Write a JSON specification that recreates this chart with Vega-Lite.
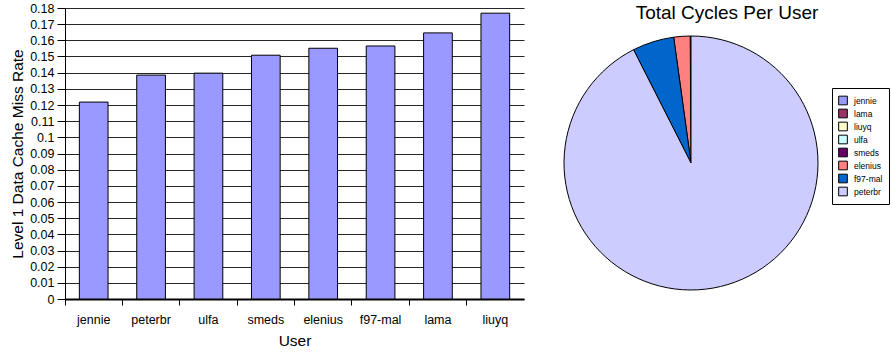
{
  "$schema": "https://vega.github.io/schema/vega-lite/v6.json",
  "padding": {"left": 10, "top": 2, "right": 0, "bottom": 0},
  "spacing": 38,
  "config": {
    "view": {"stroke": null},
    "font": "Liberation Sans",
    "axis": {"labelColor": "black", "titleColor": "black", "titleFontWeight": "normal", "labelFont": "Liberation Sans", "titleFont": "Liberation Sans"}
  },
  "datasets": {
    "missrate": [
      {"user": "jennie", "rate": 0.1218},
      {"user": "peterbr", "rate": 0.1385},
      {"user": "ulfa", "rate": 0.1397},
      {"user": "smeds", "rate": 0.1508},
      {"user": "elenius", "rate": 0.1551},
      {"user": "f97-mal", "rate": 0.1565},
      {"user": "lama", "rate": 0.1646},
      {"user": "liuyq", "rate": 0.1768}
    ],
    "cycles": [
      {"user": "jennie", "cycles": 0.02, "ord": 8},
      {"user": "lama", "cycles": 0.02, "ord": 7},
      {"user": "liuyq", "cycles": 0.02, "ord": 6},
      {"user": "ulfa", "cycles": 0.02, "ord": 5},
      {"user": "smeds", "cycles": 0.02, "ord": 4},
      {"user": "elenius", "cycles": 2.08, "ord": 3},
      {"user": "f97-mal", "cycles": 5.29, "ord": 2},
      {"user": "peterbr", "cycles": 92.53, "ord": 1}
    ]
  },
  "hconcat": [
    {
      "width": 459,
      "height": 291,
      "data": {"name": "missrate"},
      "mark": {"type": "bar", "fill": "#9999FF", "stroke": "black", "strokeWidth": 1},
      "encoding": {
        "x": {
          "field": "user", "type": "nominal", "sort": null,
          "scale": {"paddingInner": 0.5, "paddingOuter": 0.25},
          "axis": {
            "title": "User", "titleFontSize": 15.5, "titlePadding": 8,
            "labelAngle": 0, "labelFontSize": 12.5, "labelPadding": 8,
            "tickSize": 6, "tickColor": "black", "bandPosition": -0.5,
            "domainColor": "black", "domainWidth": 2, "grid": false
          }
        },
        "y": {
          "field": "rate", "type": "quantitative",
          "scale": {"domain": [0, 0.18], "nice": false},
          "axis": {
            "title": "Level 1 Data Cache Miss Rate", "titleFontSize": 15.5, "titlePadding": 4,
            "values": [0, 0.01, 0.02, 0.03, 0.04, 0.05, 0.06, 0.07, 0.08, 0.09, 0.1, 0.11, 0.12, 0.13, 0.14, 0.15, 0.16, 0.17, 0.18],
            "format": "~g", "labelFontSize": 12.5, "labelPadding": 3,
            "tickSize": 8, "tickColor": "black", "domainColor": "black",
            "grid": true, "gridColor": "black", "gridOpacity": 0.85
          }
        }
      }
    },
    {
      "width": 254,
      "height": 310,
      "data": {"name": "cycles"},
      "title": {"text": "Total Cycles Per User", "fontSize": 19, "fontWeight": "normal", "font": "Liberation Sans", "color": "black", "anchor": "middle", "offset": 6, "dy": 21, "dx": 36},
      "mark": {"type": "arc", "outerRadius": 127, "stroke": "black", "strokeWidth": 1},
      "encoding": {
        "theta": {"field": "cycles", "type": "quantitative", "stack": true},
        "order": {"field": "ord", "type": "quantitative"},
        "color": {
          "field": "user", "type": "nominal",
          "scale": {
            "domain": ["jennie", "lama", "liuyq", "ulfa", "smeds", "elenius", "f97-mal", "peterbr"],
            "range": ["#9999FF", "#993366", "#FFFFCC", "#CCFFFF", "#660066", "#FF8080", "#0066CC", "#CCCCFF"]
          },
          "legend": {
            "title": null, "orient": "none", "legendX": 767, "legendY": 80,
            "strokeColor": "black", "padding": 6, "fillColor": "white",
            "symbolType": "square", "symbolSize": 75, "symbolStrokeColor": "black", "symbolStrokeWidth": 1,
            "labelFontSize": 8.5, "labelColor": "black", "labelFont": "Liberation Sans",
            "rowPadding": 0, "clipHeight": 13, "labelOffset": 6
          }
        }
      }
    }
  ]
}
